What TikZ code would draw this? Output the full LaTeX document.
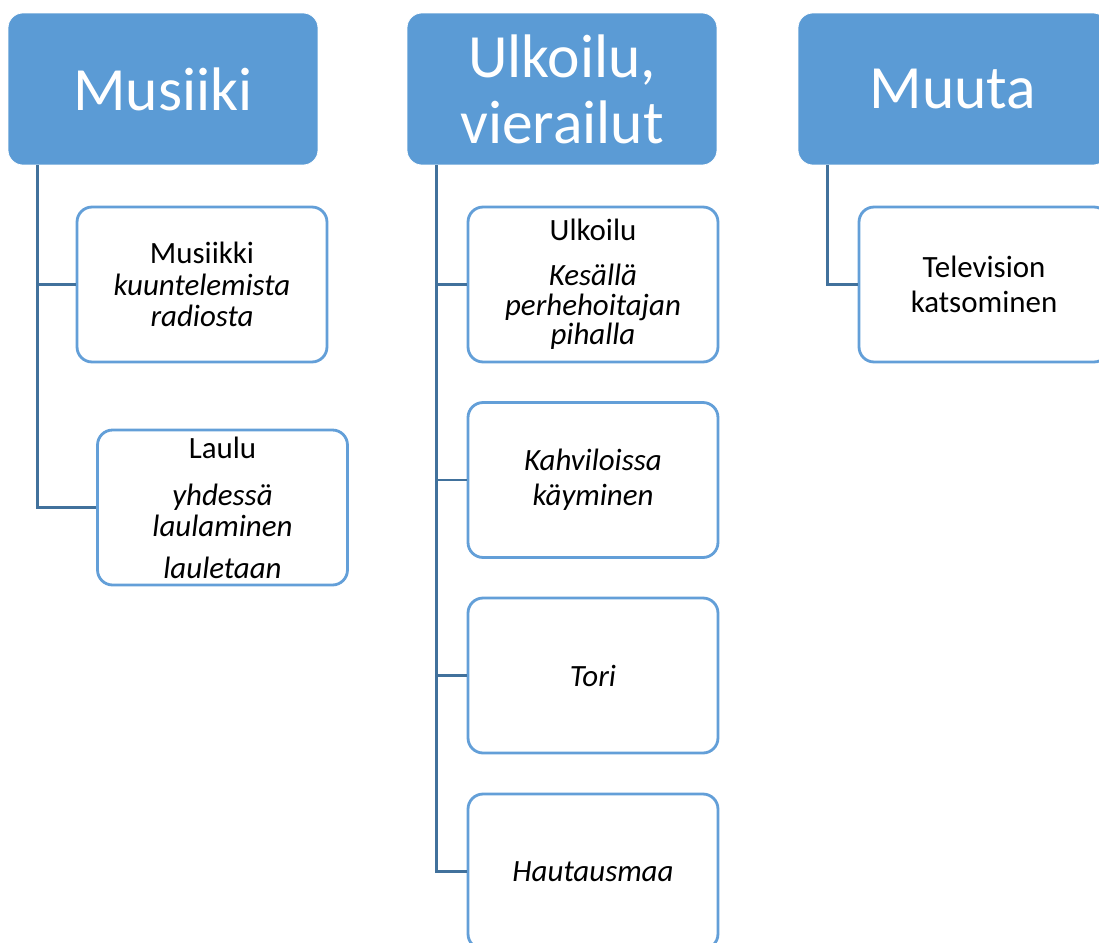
\documentclass[tikz,border=0pt]{standalone}
\usepackage{fontspec}
\setmainfont{Carlito}
\usepackage{tikz}
\usetikzlibrary{calc}
\usetikzlibrary{positioning}
\definecolor{headblue}{HTML}{5B9BD5}
\definecolor{boxblue}{HTML}{639FD8}
\definecolor{linkblue}{HTML}{41719C}
\tikzstyle{head} = [rectangle, rounded corners = 0.3cm, fill = headblue, draw = white, thin,
  minimum width = 6.2cm, minimum height = 3.04cm, align = center, text = white,
  font = \fontsize{35}{37.5}\selectfont]
\tikzstyle{item} = [rectangle, rounded corners = 0.3cm, fill = white, draw = boxblue, line width = 1.6pt,
  minimum width = 5cm, minimum height = 3.1cm, align = center,
  font = \fontsize{17.6}{17.8}\selectfont]
\tikzstyle{link} = [-, draw = linkblue, line width = 1.5pt]

\begin{document}
\begin{tikzpicture}[x = 0.02cm, y = -0.02cm]
\useasboundingbox (0, 0) rectangle (1099, 943);
\node [head] (Mus) at (163, 89) {Musiiki};
\node [head] (Ulk) at (562, 89) {Ulkoilu,\\vierailut};
\node [head] (Muu) at (953, 89) {Muuta};
\node [item] (Musiikki) at (202, 284.5) {Musiikki\\\textit{kuuntelemista}\\\textit{radiosta}};
\node [item] (Laulu) at (222.5, 507.5) {Laulu\\[9pt]\textit{yhdessä}\\\textit{laulaminen}\\[6pt]\textit{lauletaan}};
\node [item] (Ulkoilu) at (593, 284.5) {Ulkoilu\\[8pt]\textit{Kesällä}\\[-1pt]\textit{perhehoitajan}\\[-1pt]\textit{pihalla}};
\node [item] (Kahvi) at (593, 480) {\textit{Kahviloissa}\\[2pt]\textit{käyminen}};
\node [item] (Tori) at (593, 675.5) {\textit{Tori}};
\node [item] (Hauta) at (593, 871.5) {\textit{Hautausmaa}};
\node [item] (TV) at (984, 284.5) {Television\\[2pt]katsominen};
\draw [link] ([xshift = 0.6cm]Mus.south west) |- (Musiikki.west);
\draw [link] ([xshift = 0.6cm]Mus.south west) |- (Laulu.west);
\draw [link] ([xshift = 0.6cm]Ulk.south west) |- (Ulkoilu.west);
\draw [link] ([xshift = 0.6cm]Ulk.south west) |- (Kahvi.west);
\draw [link] ([xshift = 0.6cm]Ulk.south west) |- (Tori.west);
\draw [link] ([xshift = 0.6cm]Ulk.south west) |- (Hauta.west);
\draw [link] ([xshift = 0.6cm]Muu.south west) |- (TV.west);
\end{tikzpicture}
\end{document}
